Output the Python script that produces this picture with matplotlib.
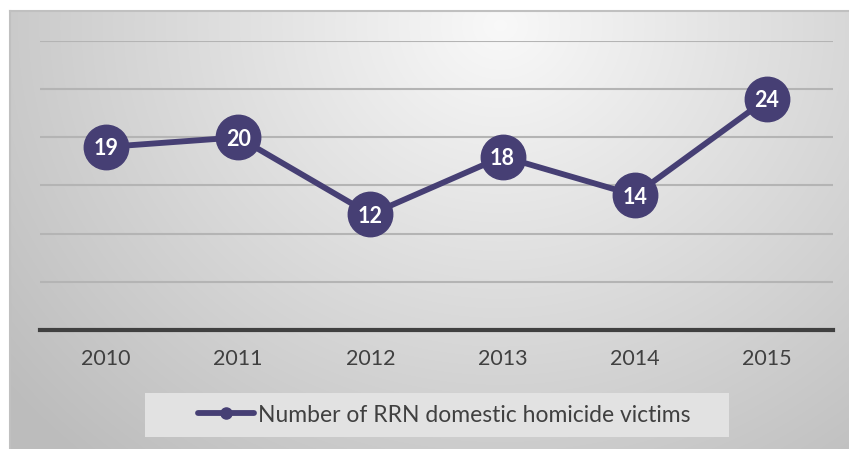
import numpy as np
import matplotlib
matplotlib.use('Agg')
import matplotlib.pyplot as plt
from matplotlib.patches import Rectangle

years = ['2010', '2011', '2012', '2013', '2014', '2015']
victims = [19, 20, 12, 18, 14, 24]
series_name = 'Number of RRN domestic homicide victims'

W, H = 849, 449
line_col = '#463f74'
text_col = '#404040'
plt.rcParams['font.family'] = ['Lato', 'DejaVu Sans']

fig = plt.figure(figsize=(W / 100, H / 100), dpi=100)

# background panel with radial gradient
bg = fig.add_axes([10 / W, 0, (W - 10) / W, (H - 11) / H])
yy, xx = np.mgrid[11:H, 10:W]
d = np.sqrt(((xx - 500) / 620.0) ** 2 + ((yy - 25) / 560.0) ** 2)
shade = np.clip(0.975 - 0.23 * d, 0.74, 1.0)
bg.imshow(np.dstack([shade] * 3), aspect='auto', extent=[0, 1, 0, 1])
bg.set_xlim(0, 1)
bg.set_ylim(0, 1)
bg.set_xticks([])
bg.set_yticks([])
for s in ['top', 'left']:
    bg.spines[s].set_color('#c0c0c0')
    bg.spines[s].set_linewidth(1.5)
for s in ['right', 'bottom']:
    bg.spines[s].set_visible(False)

# main plot area
ax = fig.add_axes([40 / W, (H - 330) / H, 793 / W, 289 / H])
ax.patch.set_alpha(0)
x = np.arange(len(years))
ax.set_xlim(-0.5, len(years) - 0.5)
ax.set_ylim(0, 30)
for v in range(5, 31, 5):
    ax.axhline(v, color='#b4b4b4', lw=1.5, zorder=1)
ax.axhline(0, color='#404040', lw=3, zorder=2, clip_on=False)
for s in ax.spines.values():
    s.set_visible(False)
ax.set_yticks([])
ax.set_xticks(x)
ax.set_xticklabels(years, fontsize=15.5, color=text_col)
ax.tick_params(axis='x', length=0, pad=14)

ax.plot(x, victims, color=line_col, lw=4.2, marker='o', markersize=32,
        solid_capstyle='round', zorder=3, label=series_name)
for xi, v in zip(x, victims):
    ax.text(xi, v, str(v), ha='center', va='center_baseline', color='white',
            fontsize=15.5, fontweight='bold', zorder=4)

# legend
fig.patches.append(Rectangle((145 / W, 1 - 437 / H), 584 / W, 44 / H,
                             transform=fig.transFigure, facecolor='#e2e2e2',
                             edgecolor='none', zorder=0))
leg = fig.legend(handles=[plt.Line2D([], [], color=line_col, lw=4.2, marker='o',
                                     markersize=8, solid_capstyle='round')],
                 labels=[series_name], loc='center', bbox_to_anchor=(444 / W, 1 - 415 / H),
                 frameon=False, fontsize=16.5, handlelength=2.45, handletextpad=0.15)
for t in leg.get_texts():
    t.set_color(text_col)

fig.savefig('out.png', dpi=100)
